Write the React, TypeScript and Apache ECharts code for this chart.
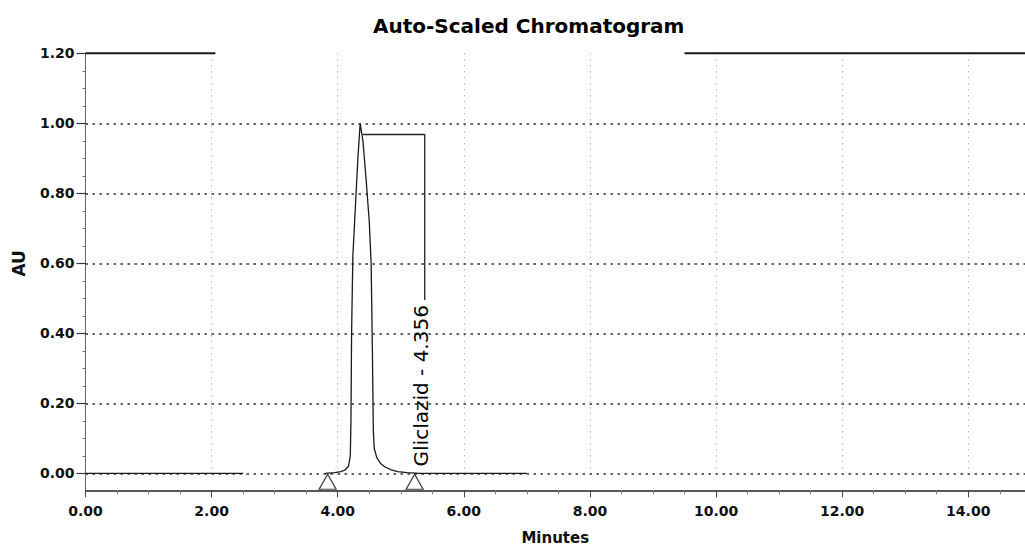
import React, { useEffect, useRef } from "react";
import * as echarts from "echarts";

const chartTitle = "Auto-Scaled Chromatogram";
const xAxisName = "Minutes";
const yAxisName = "AU";

const xMin = 0;
const xMax = 14.9;
const xStep = 2;
const yMin = 0;
const yMax = 1.2;
const yStep = 0.2;
const axisFloor = -0.048;
const gridLevels = [0, 0.2, 0.4, 0.6, 0.8, 1.0];

// chromatogram trace (null = faded / not visible in the print)
const traceTimes = [
  0.0, 2.5, 2.6,
  3.8, 3.95, 4.05, 4.12, 4.17, 4.2, 4.21, 4.22, 4.24, 4.28, 4.32, 4.356,
  4.4, 4.45, 4.5, 4.53, 4.55, 4.565, 4.58, 4.62, 4.68, 4.75, 4.85, 4.95,
  5.1, 5.3, 7.0,
];
const traceValues = [
  0.0, 0.0, null,
  0.0, 0.002, 0.005, 0.01, 0.02, 0.05, 0.15, 0.4, 0.62, 0.76, 0.9, 1.0,
  0.95, 0.84, 0.72, 0.6, 0.35, 0.12, 0.07, 0.045, 0.028, 0.018, 0.01, 0.005,
  0.002, 0.0, 0.0,
];

const peakName = "Gliclazid";
const peakRetention = 4.356;
const peakLabelTime = 5.32;
const peakLabelValue = 0.25;

const leaderTimes = [4.4, 5.38, 5.38];
const leaderValues = [0.968, 0.968, 0.495];

const markerTimes = [3.84, 5.22];
const markerValues = [-0.024, -0.024];

const topBorderTimes = [0, 2.06, 5, 9.5, 14.9];
const topBorderValues = [1.2, 1.2, null, 1.2, 1.2];

const axisExtTimes = [0, 0];
const axisExtValues = [0, axisFloor];

const FONT = "DejaVu Sans";

const pairs = (xs: number[], ys: (number | null)[]) =>
  xs.map((x, i) => [x, ys[i] === null ? "-" : ys[i]]);

export default function App() {
  const ref = useRef<HTMLDivElement>(null);

  useEffect(() => {
    if (!ref.current) return;
    const chart = echarts.init(ref.current, undefined, { renderer: "svg" });
    const option: any = {
      animation: false,
      backgroundColor: "#ffffff",
      title: {
        text: chartTitle,
        left: 373,
        top: 16,
        padding: 0,
        textStyle: {
          fontFamily: FONT,
          fontWeight: "bold",
          fontSize: 20,
          color: "#000",
        },
      },
      grid: {
        left: 85.5,
        right: 0,
        top: 53.3,
        bottom: 75.7,
        containLabel: false,
        outerBoundsMode: "none",
      },
      xAxis: {
        type: "value",
        min: xMin,
        max: xMax,
        interval: xStep,
        offset: 17,
        name: xAxisName,
        nameLocation: "middle",
        nameGap: 40,
        nameTextStyle: {
          fontFamily: FONT,
          fontWeight: "bold",
          fontSize: 15,
          color: "#111",
        },
        axisLine: { show: true, onZero: false, lineStyle: { color: "#222", width: 1.5 } },
        axisTick: { show: true, length: 7, lineStyle: { color: "#444", width: 1 } },
        minorTick: { show: true, splitNumber: 4, length: 4, lineStyle: { color: "#777", width: 1 } },
        axisLabel: {
          margin: 14,
          showMaxLabel: false,
          fontFamily: FONT,
          fontWeight: "bold",
          fontSize: 14,
          color: "#111",
          formatter: (v: number) => v.toFixed(2),
        },
        splitLine: {
          show: true,
          lineStyle: { color: "#9a9a9a", width: 1, type: [1, 5] },
        },
      },
      yAxis: {
        type: "value",
        min: yMin,
        max: yMax,
        interval: yStep,
        name: yAxisName,
        nameLocation: "middle",
        nameRotate: 90,
        nameGap: 58,
        nameTextStyle: {
          fontFamily: FONT,
          fontWeight: "bold",
          fontSize: 17,
          color: "#111",
        },
        axisLine: { show: true, onZero: false, lineStyle: { color: "#666", width: 1 } },
        axisTick: { show: true, length: 9, lineStyle: { color: "#333", width: 1.2 } },
        minorTick: { show: true, splitNumber: 4, length: 3, lineStyle: { color: "#777", width: 1 } },
        axisLabel: {
          margin: 11,
          fontFamily: FONT,
          fontWeight: "bold",
          fontSize: 14,
          color: "#111",
          formatter: (v: number) => v.toFixed(2),
        },
        splitLine: { show: false },
      },
      series: [
        {
          type: "line",
          name: "trace",
          data: pairs(traceTimes, traceValues),
          showSymbol: false,
          symbol: "none",
          connectNulls: false,
          clip: false,
          lineStyle: { color: "#1a1a1a", width: 1.3 },
          z: 5,
          markLine: {
            silent: true,
            symbol: ["none", "none"],
            label: { show: false },
            lineStyle: { color: "#333", width: 1.5, type: [2.5, 4.5] },
            data: gridLevels.map((v) => ({ yAxis: v })),
            z: 2,
          },
        },
        {
          type: "line",
          name: "topBorder",
          data: pairs(topBorderTimes, topBorderValues),
          symbol: "none",
          connectNulls: false,
          clip: false,
          lineStyle: { color: "#1a1a1a", width: 2 },
          z: 4,
        },
        {
          type: "line",
          name: "axisExt",
          data: pairs(axisExtTimes, axisExtValues),
          symbol: "none",
          clip: false,
          lineStyle: { color: "#666", width: 1 },
          z: 3,
        },
        {
          type: "line",
          name: "leader",
          data: pairs(leaderTimes, leaderValues),
          symbol: "none",
          clip: false,
          lineStyle: { color: "#222", width: 1.3 },
          z: 4,
        },
        {
          type: "scatter",
          name: "baselineMarkers",
          data: pairs(markerTimes, markerValues),
          symbol: "triangle",
          symbolSize: [17, 15],
          clip: false,
          itemStyle: { color: "rgba(255,255,255,0)", borderColor: "#111", borderWidth: 1.2 },
          z: 6,
        },
        {
          type: "scatter",
          name: "peakLabel",
          data: [[peakLabelTime, peakLabelValue]],
          symbolSize: 0,
          clip: false,
          itemStyle: { color: "#000", opacity: 1 },
          label: {
            show: true,
            position: "inside",
            rotate: 90,
            formatter: `${peakName} - ${peakRetention.toFixed(3)}`,
            fontFamily: FONT,
            fontSize: 20,
            color: "#000",
            opacity: 1,
            textBorderWidth: 0,
            align: "center",
            verticalAlign: "middle",
          },
          z: 7,
        },
      ],
    };
    chart.setOption(option);
    return () => chart.dispose();
  }, []);

  return (
    <div
      ref={ref}
      style={{ position: "absolute", left: 0, top: 0, width: 1025, height: 549 }}
    />
  );
}
